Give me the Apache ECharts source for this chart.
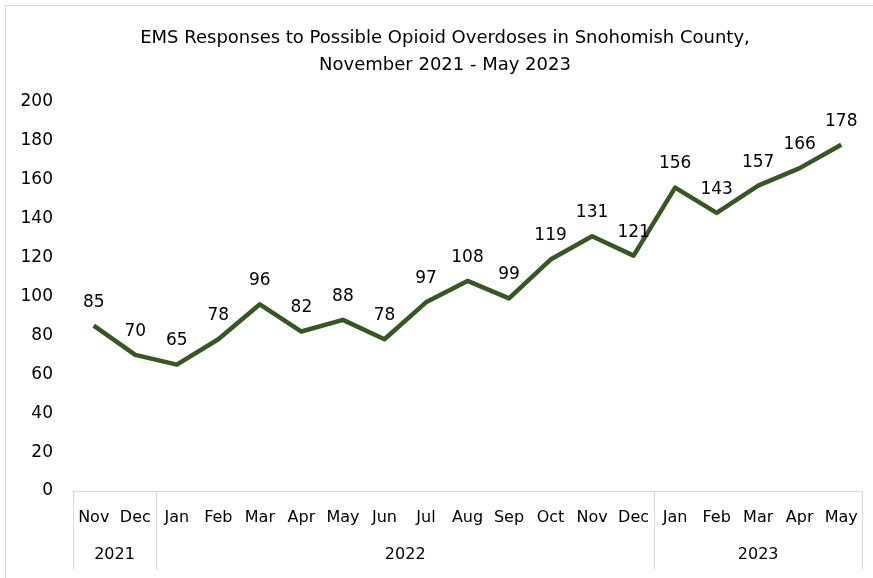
<!DOCTYPE html>
<html>
<head>
<meta charset="utf-8">
<script src="https://cdn.jsdelivr.net/npm/echarts@6/dist/echarts.min.js"></script>
<style>
  html, body { margin: 0; padding: 0; background: #fff; }
  .frame {
    position: absolute; left: 5px; top: 5px;
    width: 880px; height: 590px;
    border: 1px solid #d9d9d9;
  }
  #box { position: absolute; left: 0; top: 0; width: 873px; height: 578px; }
</style>
</head>
<body>
<div class="frame"></div>
<div id="box"></div>
<script>
// months along the x axis
const months = ["Nov", "Dec", "Jan", "Feb", "Mar", "Apr", "May", "Jun", "Jul", "Aug",
  "Sep", "Oct", "Nov", "Dec", "Jan", "Feb", "Mar", "Apr", "May"];
// EMS responses per month
const responses = [85, 70, 65, 78, 96, 82, 88, 78, 97, 108, 99, 119, 131, 121, 156, 143, 157, 166, 178];
// year groups: name and how many months each covers
const years = ["2021", "2022", "2023"];
const yearSpans = [2, 12, 5];

// group boundaries and centres, in category units
let bounds = [0];
let centres = [];
yearSpans.forEach((n) => {
  let start = bounds[bounds.length - 1];
  centres.push(start + n / 2);
  bounds.push(start + n);
});

const font = "'DejaVu Sans', sans-serif";
let myChart = echarts.init(document.getElementById("box"));
let option = {
  animation: false,
  title: {
    text: "EMS Responses to Possible Opioid Overdoses in Snohomish County,\nNovember 2021 - May 2023",
    left: 440,
    textAlign: "center",
    top: 20,
    textStyle: {
      fontFamily: font,
      fontSize: 18,
      fontWeight: "normal",
      color: "#000",
      lineHeight: 27,
    },
  },
  grid: { left: 73, right: 11, top: 102, bottom: 87 },
  xAxis: [
    {
      type: "category",
      data: months,
      boundaryGap: true,
      axisLine: { lineStyle: { color: "#d9d9d9" } },
      axisTick: { show: false },
      axisLabel: { interval: 0, margin: 19, fontFamily: font, fontSize: 16, color: "#000" },
    },
    {
      type: "value",
      min: 0,
      max: months.length,
      position: "bottom",
      axisLine: { show: false },
      splitLine: { show: false },
      axisTick: {
        show: true,
        customValues: bounds,
        length: 79,
        lineStyle: { color: "#d9d9d9" },
      },
      axisLabel: {
        customValues: centres,
        margin: 56,
        fontFamily: font,
        fontSize: 16,
        color: "#000",
        formatter: (v) => years[centres.indexOf(v)],
      },
    },
  ],
  yAxis: {
    type: "value",
    min: 0,
    max: 200,
    interval: 20,
    axisLine: { show: false },
    axisTick: { show: false },
    splitLine: { show: false },
    axisLabel: { margin: 20, padding: [5, 0, 0, 0], fontFamily: font, fontSize: 17, color: "#000" },
  },
  series: [
    {
      type: "line",
      data: responses,
      showSymbol: true,
      symbol: "circle",
      symbolSize: 0.1,
      itemStyle: { color: "#375623" },
      lineStyle: { color: "#375623", width: 4.5, join: "round" },
      label: {
        show: true,
        position: "top",
        distance: 15,
        fontFamily: font,
        fontSize: 17,
        color: "#000",
      },
    },
  ],
};
myChart.setOption(option);
</script>
</body>
</html>
